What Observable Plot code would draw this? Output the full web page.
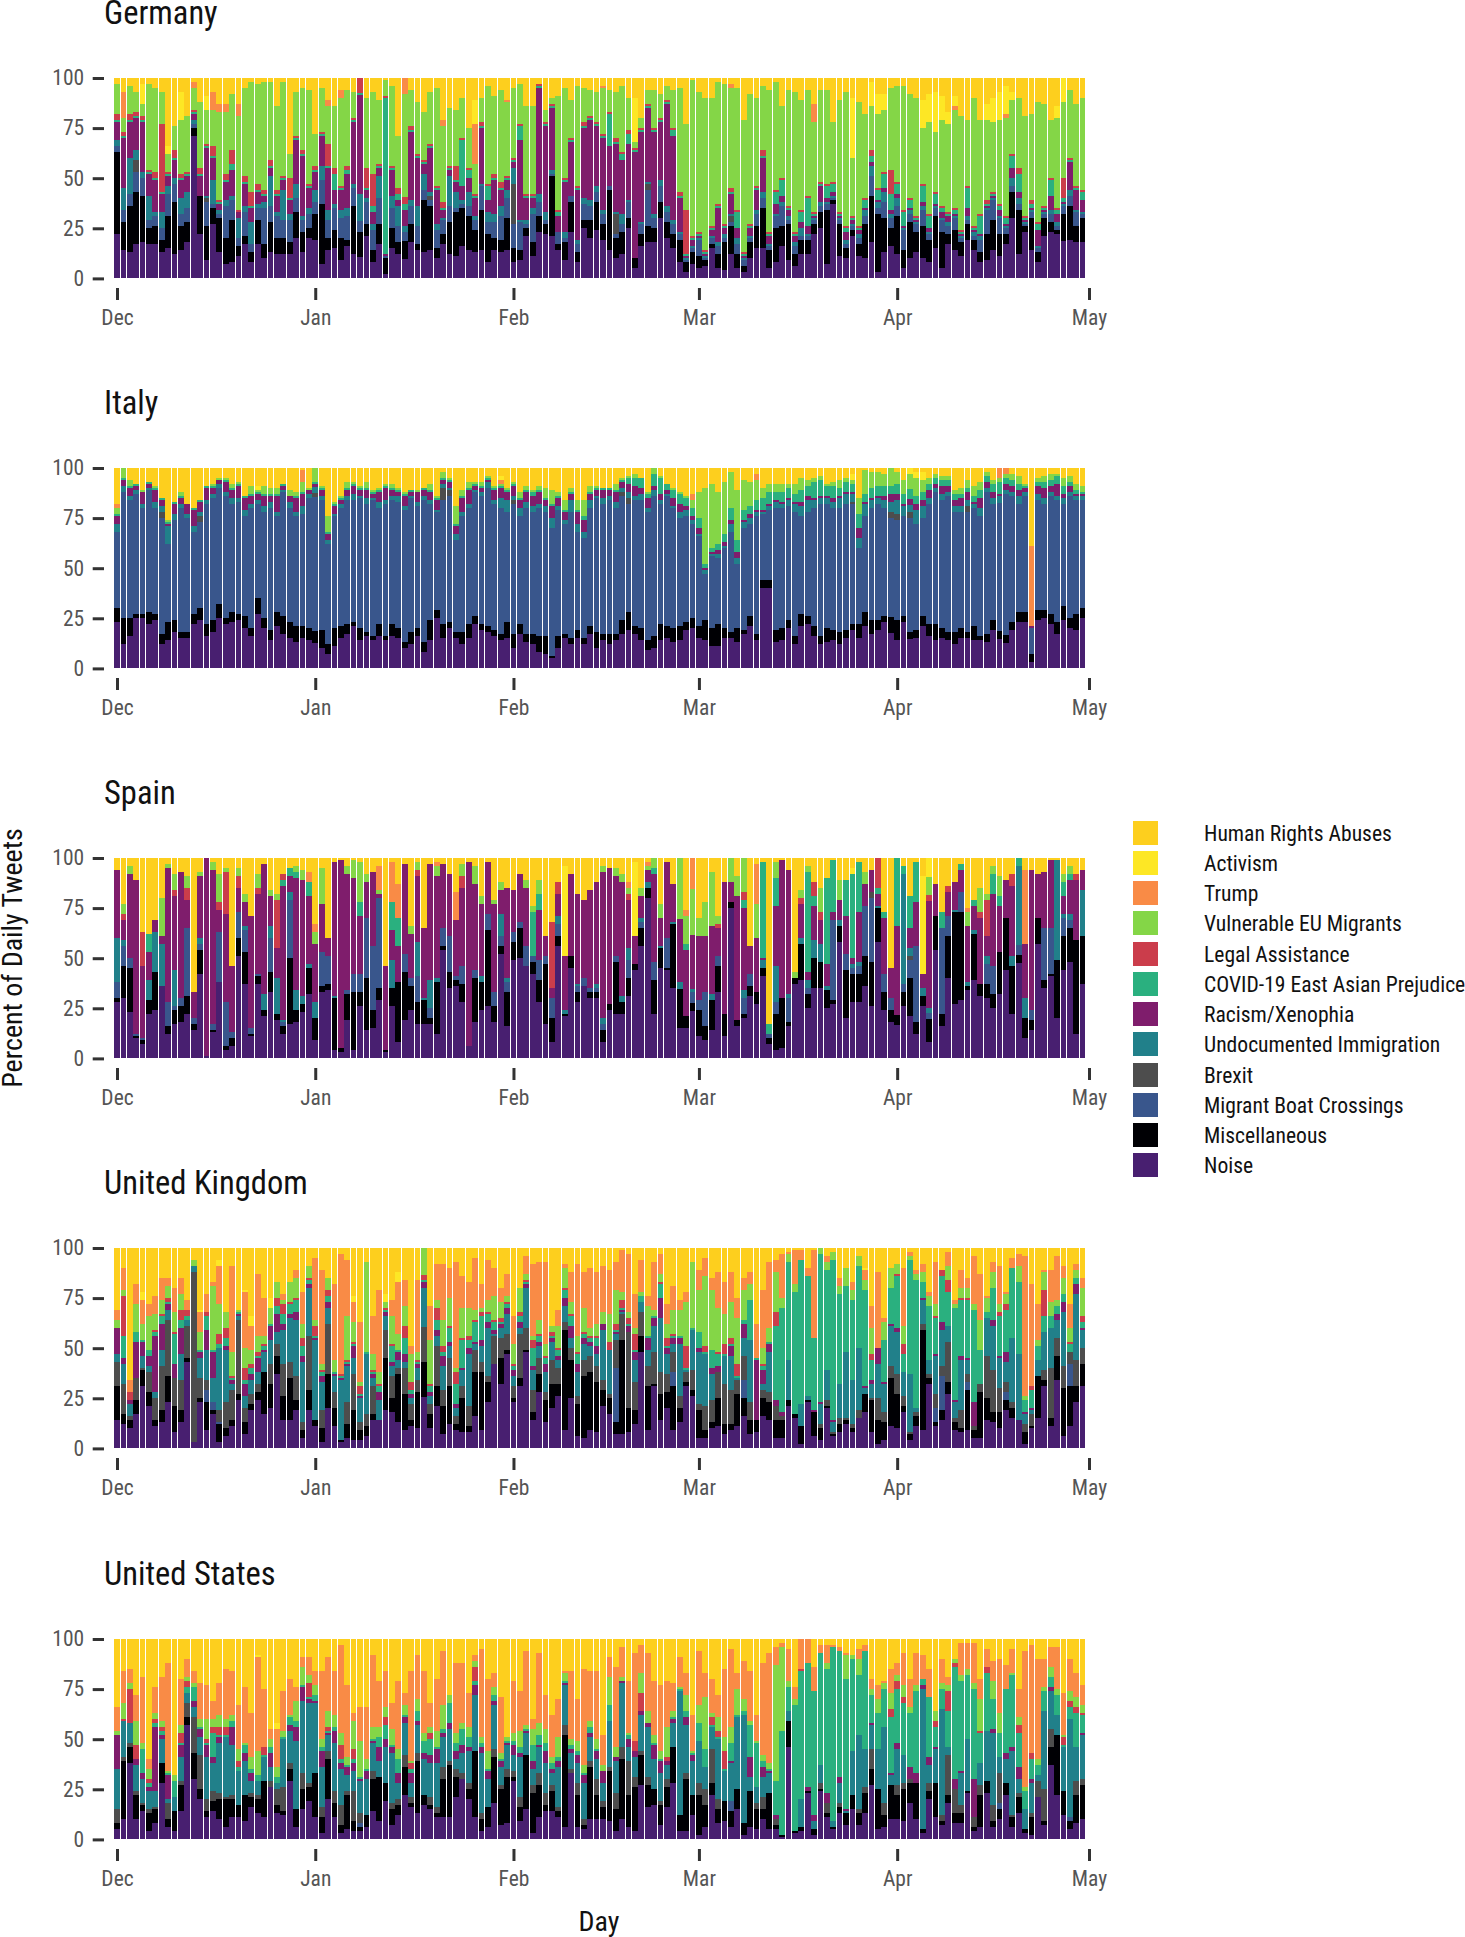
<!DOCTYPE html>
<html><head><meta charset="utf-8">
<script src="https://cdn.jsdelivr.net/npm/d3@7"></script>
<script src="https://cdn.jsdelivr.net/npm/@observablehq/plot@0.6"></script>
<style>
html,body{margin:0;padding:0;background:#fff}
#page{position:relative;width:1465px;height:1937px;overflow:hidden;font-family:"Roboto Condensed","Liberation Sans Narrow",Roboto,sans-serif}
#page svg{position:absolute;left:0;font-family:"Roboto Condensed","Liberation Sans Narrow",Roboto,sans-serif;overflow:visible}
.t{position:absolute;white-space:nowrap}
</style></head><body><div id="page"></div>
<script>
const categories=["Noise","Miscellaneous","Migrant Boat Crossings","Brexit","Undocumented Immigration","Racism/Xenophia","COVID-19 East Asian Prejudice","Legal Assistance","Vulnerable EU Migrants","Trump","Activism","Human Rights Abuses"];
const colors=["#481f70","#000004","#39568c","#4d4d4d","#21808a","#7f1d6c","#2ab07f","#cb3d4b","#84d647","#f98b46","#fde725","#fdcf1e"];
const countries=["Germany","Italy","Spain","United Kingdom","United States"];

// Germany
const deN=[22,14,13,17,18,17,17,13,15,12,14,18,71,22,9,27,13,7,8,11,17,8,17,10,13,12,12,12,20,13,20,19,7,14,15,9,16,12,11,21,8,17,2,15,12,10,18,14,13,14,10,17,12,11,16,14,13,14,8,14,13,14,8,9,21,11,23,22,21,14,9,23,8,25,20,24,19,14,10,12,25,5,16,18,18,30,20,15,8,3,7,5,6,15,5,4,12,5,3,10,15,15,5,8,16,9,6,12,12,22,25,7,37,11,10,21,11,10,18,3,13,16,12,5,10,13,10,8,15,5,17,14,11,19,14,8,9,14,11,17,30,12,23,14,8,21,23,22,19,19,18,18];
const deM=[41,14,23,26,23,8,9,6,16,26,12,10,4,19,17,8,17,13,21,5,4,5,12,7,15,8,8,6,13,10,5,13,30,6,9,11,3,24,13,6,6,10,8,10,6,9,9,3,26,22,5,5,16,22,19,17,11,20,14,6,6,16,7,5,4,7,8,5,30,3,9,15,5,4,9,14,8,30,10,11,5,5,6,8,7,8,8,7,11,5,6,6,3,2,7,14,14,7,3,8,11,20,9,17,10,18,6,7,7,5,8,27,2,16,5,3,6,17,23,29,17,9,19,9,18,10,16,11,16,18,5,10,7,8,5,5,13,15,11,5,13,22,3,16,5,9,5,2,14,17,8,12];
const deB=[3,6,6,10,9,4,5,6,11,9,6,7,2,0,12,2,2,16,10,4,12,4,6,18,8,11,9,11,7,6,7,6,12,9,11,10,12,9,6,11,10,13,1,10,8,5,9,9,5,3,9,7,8,2,2,5,5,12,6,8,12,10,12,14,2,14,7,2,1,6,2,3,4,8,7,5,5,2,2,4,8,0,5,18,5,8,5,5,3,1,2,8,1,3,4,2,2,5,3,2,6,5,2,6,10,2,4,2,2,2,3,3,1,2,2,2,3,4,10,3,8,5,5,10,4,4,8,3,4,6,4,6,2,2,2,6,12,10,8,3,3,3,1,3,2,2,4,2,4,5,7,2];
const deU=[3,11,18,5,3,12,2,8,4,3,8,8,2,0,1,12,2,3,2,10,3,11,2,3,15,2,15,3,7,2,3,6,7,5,2,4,4,2,14,2,3,11,0,6,10,3,3,10,8,2,3,1,15,8,2,7,2,1,5,4,5,4,8,1,2,3,4,4,2,0,3,0,2,3,3,3,2,0,1,5,1,0,1,1,2,3,3,2,1,1,1,1,1,1,2,2,1,3,1,1,2,3,1,1,2,2,2,4,1,1,2,1,1,1,2,1,2,3,5,3,5,2,4,1,2,1,2,1,1,1,2,1,1,2,2,2,1,1,1,1,4,3,1,1,1,1,2,2,1,3,1,1];
const deR=[9,25,18,16,25,11,16,9,5,9,9,8,3,10,24,11,3,9,13,3,11,7,6,3,4,8,5,7,22,30,10,9,15,21,7,10,17,31,51,4,6,4,1,13,3,8,34,24,5,22,17,4,3,5,7,7,9,28,6,17,8,5,3,40,11,5,53,43,31,8,25,27,25,35,40,30,36,20,34,27,28,53,45,37,41,29,51,42,17,1,3,1,1,3,17,3,10,5,1,4,10,17,4,5,3,3,3,3,4,1,8,2,2,1,4,2,2,1,2,1,2,2,2,1,1,1,2,2,1,3,3,1,1,4,1,1,1,1,3,1,5,3,1,1,8,1,7,4,1,14,10,6];
const deC=[1,1,1,1,1,1,1,1,1,1,1,1,1,1,1,1,1,1,3,0,1,1,1,1,1,1,1,1,1,1,1,1,1,1,8,1,2,1,1,1,3,1,78,1,3,3,1,1,1,1,1,1,1,1,23,4,1,1,7,1,1,1,1,7,1,1,1,1,1,2,1,1,1,1,1,1,1,16,1,3,5,1,1,1,1,1,1,3,1,1,1,1,1,1,1,1,1,8,1,1,1,1,1,6,8,1,1,5,14,1,1,6,4,1,2,1,1,4,3,5,7,8,5,7,4,1,8,6,5,2,1,2,1,10,1,9,1,1,2,3,6,9,1,2,3,1,8,2,2,1,1,4];
const deL=[3,2,3,2,2,1,3,34,1,4,2,1,1,3,1,5,1,3,7,1,3,7,3,2,3,2,1,10,1,2,1,2,1,11,3,1,2,1,8,10,16,1,1,1,3,4,2,1,1,1,1,3,1,7,1,1,1,2,1,2,3,1,1,1,1,1,1,1,1,1,1,1,1,2,1,1,1,1,2,1,2,1,1,1,1,1,1,1,2,22,1,1,1,1,1,1,2,1,1,1,1,3,1,1,1,1,1,1,1,1,1,1,1,1,1,1,1,1,3,1,1,12,1,1,1,1,1,1,1,1,1,1,1,1,1,1,2,1,1,1,1,3,1,2,1,1,1,1,10,1,1,1];
const deVulnTop=[97,80,96,93,87,97,95,93,62,76,79,81,95,88,84,84,83,83,92,81,95,98,97,98,98,86,98,62,93,95,94,72,95,86,86,90,94,93,94,90,93,89,99,96,71,95,94,88,83,93,95,76,85,84,90,75,57,90,96,91,94,88,95,97,86,86,96,84,90,91,95,89,96,95,94,93,95,94,93,96,90,68,80,94,94,92,96,94,95,77,99,93,90,90,98,97,95,95,79,92,90,96,94,98,86,94,93,89,94,78,94,94,78,89,93,60,88,82,86,82,84,95,96,96,92,90,75,78,73,79,77,84,81,79,90,79,79,78,79,80,89,90,81,82,88,87,79,80,90,94,87,90];
const deT=[[1,13],[12,3],[15,9],[16,4],[17,4],[19,6],[33,3],[35,4],[45,8],[51,3],[56,20],[61,1],[76,1],[96,2],[109,9],[131,2],[139,2]];
const deA=[[4,10],[8,4],[10,14],[14,7],[56,12],[81,22],[115,30],[118,12],[119,10],[120,8],[126,14],[127,14],[128,20],[129,12],[130,6],[131,5],[136,8],[137,12],[138,14],[139,14],[140,4],[147,6],[148,12]];
const deX=[[3,6],[14,2],[49,2],[62,20],[78,10],[83,3],[96,3]];

// Italy
const itN=[23,12,16,25,25,22,24,12,14,18,15,15,22,24,16,18,25,22,23,24,20,16,27,20,14,21,17,15,13,15,14,13,10,7,11,15,17,21,14,16,14,16,14,16,15,10,12,16,8,14,25,15,20,15,12,15,22,19,18,16,14,15,10,17,13,12,8,7,5,10,15,12,15,12,17,10,14,12,14,17,19,17,14,9,10,14,15,13,14,19,20,15,14,11,11,15,15,13,17,21,14,40,40,13,14,20,12,21,22,16,12,13,14,12,15,19,15,21,17,19,23,18,14,23,15,15,21,16,14,15,14,12,15,15,14,14,13,19,15,13,19,23,23,3,24,25,22,17,24,20,19,25];
const itM=[7,13,9,2,2,6,3,5,9,6,3,3,5,6,6,6,7,3,5,3,6,4,8,5,5,7,9,8,8,6,6,6,9,5,9,6,5,2,6,2,2,6,2,6,5,3,6,4,5,10,4,7,3,3,6,7,4,3,3,3,3,8,7,5,4,5,8,9,1,6,2,3,4,3,4,8,3,5,3,7,9,4,6,5,6,8,6,7,7,4,5,6,10,9,11,5,3,7,2,5,3,4,4,6,6,4,4,6,4,5,4,7,5,6,4,3,7,7,7,5,3,8,10,3,4,4,5,6,8,5,4,6,5,3,7,2,4,5,4,4,4,5,5,4,5,4,5,6,7,5,8,5];
const itBoatTop=[68,88,84,87,80,89,80,75,62,74,80,75,68,73,82,85,90,86,82,83,76,80,82,78,80,76,88,80,76,77,85,88,84,62,76,80,84,84,85,82,84,80,82,84,83,79,85,81,84,82,78,84,86,64,76,80,88,86,90,82,80,78,82,76,80,78,80,78,70,79,72,78,68,65,80,85,82,84,80,86,82,84,84,78,86,82,86,80,75,76,72,66,47,56,55,60,68,52,70,72,76,77,79,80,80,81,78,76,78,80,82,82,80,80,82,82,60,76,80,82,80,76,74,76,78,72,75,82,88,84,86,78,78,78,80,76,88,82,84,88,86,82,86,20,84,82,86,84,82,86,84,84];
const itU=[4,3,2,2,2,1,3,3,9,3,2,2,3,2,2,2,2,2,3,2,3,2,2,3,3,2,1,3,2,4,2,3,2,2,1,2,2,3,1,3,1,3,2,2,3,2,1,2,2,2,1,2,1,3,2,2,1,2,3,2,5,6,2,4,3,3,2,3,5,2,2,6,4,3,4,1,3,2,3,2,3,2,3,2,3,2,1,1,3,3,2,1,2,1,2,1,4,3,3,3,2,1,2,3,2,3,4,5,6,4,3,3,3,5,5,4,5,6,4,3,4,5,7,5,4,7,6,3,2,3,2,3,3,3,2,4,2,3,4,2,2,4,2,0,3,3,2,2,3,2,2,2];
const itR=[4,3,4,2,6,2,6,3,1,5,3,5,8,5,6,3,2,5,4,6,6,4,3,5,3,8,2,3,7,6,2,2,3,3,4,2,3,4,3,4,2,5,6,3,2,5,2,5,3,4,5,2,3,4,7,7,2,2,1,5,5,4,5,4,5,5,6,3,6,4,4,3,6,6,3,3,4,3,5,3,4,5,3,5,2,3,2,4,4,2,2,3,1,1,2,2,2,3,1,2,1,1,1,1,1,1,1,2,2,1,1,1,2,1,1,1,5,1,1,1,2,4,3,1,3,3,3,4,2,4,3,3,4,4,1,5,3,3,1,3,3,3,2,1,4,5,3,6,2,3,1,1];
const itC=[1,1,1,1,0,1,1,1,1,1,1,0,1,1,1,1,0,1,1,1,1,1,1,1,1,1,1,0,1,1,0,1,1,1,1,1,1,1,1,1,1,1,1,1,1,1,1,0,1,1,1,1,1,1,1,1,1,1,1,1,1,1,1,1,1,2,1,1,1,1,1,1,1,2,1,1,1,1,1,1,3,4,5,2,6,8,3,4,5,4,4,5,2,2,3,4,6,6,5,4,5,6,6,4,5,5,4,6,5,8,8,5,6,4,5,4,7,4,5,5,5,4,5,5,5,4,4,3,3,3,3,3,2,2,3,4,3,4,6,3,3,3,1,0,2,3,3,4,4,2,2,1];
const itV=[3,5,3,0,1,0,1,0,1,0,2,0,0,0,0,1,1,1,2,1,0,4,1,4,3,3,0,3,2,5,1,7,1,8,1,1,3,1,1,3,1,1,1,2,1,1,0,1,0,3,1,3,1,9,3,3,1,2,1,1,1,1,1,3,2,1,2,5,7,2,5,2,5,8,3,1,0,0,3,1,1,2,0,1,3,1,0,1,1,1,4,13,38,32,26,26,18,25,15,12,10,5,4,4,4,2,5,6,3,2,2,1,2,4,2,2,8,12,8,7,6,9,6,7,8,9,6,3,2,2,2,2,3,4,5,4,2,2,2,2,3,4,1,0,2,3,3,1,4,3,3,3];
const itT=[[0,2],[29,6],[60,2],[90,3],[100,3],[139,3],[138,5],[143,40]];
const itA=[[22,2],[60,2],[115,3],[124,3],[125,3],[126,4]];
const itX=[[7,3],[13,3],[31,2],[51,6],[52,3],[62,2],[79,2],[80,3],[115,1],[121,3],[122,3],[124,3],[133,3]];

// Spain
const esN=[28,30,23,10,7,22,24,36,12,17,18,22,14,42,1,13,38,4,6,51,37,11,37,21,33,19,12,17,18,23,32,9,33,34,4,3,19,4,26,14,15,29,3,26,8,19,24,17,17,17,12,54,35,36,28,6,18,24,26,18,52,16,49,50,46,42,28,17,8,56,21,45,28,36,30,30,8,24,22,22,31,44,56,80,22,45,44,35,19,15,27,11,9,14,33,11,76,16,20,31,27,41,7,4,5,16,37,39,25,35,35,25,27,58,20,28,28,36,26,58,24,18,23,26,21,12,26,9,54,16,40,27,29,34,39,31,30,25,32,44,22,57,10,14,57,35,41,20,44,48,12,37];
const esM=[2,16,22,1,2,7,19,0,4,7,8,9,3,12,0,1,0,2,4,9,16,1,4,3,10,3,4,33,6,4,13,11,3,3,26,2,13,29,7,26,9,6,1,9,30,24,12,11,12,3,26,2,8,3,9,0,22,14,38,8,4,17,9,15,0,6,11,30,12,5,1,6,5,0,3,3,6,3,26,6,9,3,9,5,17,10,1,32,24,6,5,13,7,15,13,11,3,3,2,5,6,4,3,18,25,2,3,18,7,15,13,9,2,8,24,14,14,15,22,17,9,6,7,7,19,6,5,12,17,6,21,46,44,2,23,6,7,7,21,26,24,5,10,5,13,4,1,29,17,17,47,24];
const esB=[8,10,5,1,1,0,0,0,12,2,4,34,3,3,0,3,25,22,3,13,11,3,1,0,17,0,2,29,0,0,0,0,17,14,0,0,2,9,9,30,32,45,0,0,0,9,4,13,0,5,0,9,18,2,9,0,4,0,8,7,5,5,5,3,10,3,10,4,10,6,0,0,3,4,2,2,3,0,3,0,9,0,3,0,9,0,15,0,0,0,6,5,17,0,5,0,0,0,8,6,0,0,2,6,0,12,0,0,3,0,0,0,40,0,8,3,4,25,32,0,9,6,0,4,9,38,0,3,0,43,10,0,10,0,0,0,10,14,0,0,0,6,0,5,0,26,23,0,9,4,0,0];
const esU=[22,3,0,0,0,10,20,21,0,18,0,0,0,3,0,0,0,0,0,0,2,0,0,8,6,18,1,4,10,4,2,8,0,0,1,0,0,0,0,0,0,0,0,14,0,0,0,17,1,14,2,0,0,0,0,0,0,3,0,0,11,2,0,0,0,0,0,0,0,4,2,0,1,0,0,2,3,0,0,3,6,0,2,3,0,1,0,1,4,0,2,0,0,3,0,0,0,0,4,0,0,4,0,18,0,2,0,3,4,9,9,2,0,3,0,2,2,0,0,1,0,0,0,55,4,0,4,3,0,0,0,1,0,2,2,0,4,0,0,0,5,47,10,0,0,0,0,50,2,3,0,23];
const esRacismTop=[94,69,92,89,46,53,69,61,95,81,93,79,33,91,100,94,74,72,46,85,78,71,82,97,81,55,86,91,90,89,81,57,77,60,98,99,92,90,71,88,93,82,46,64,56,97,62,91,65,97,91,97,92,69,85,98,87,77,98,77,84,85,84,92,85,51,74,61,35,82,51,92,82,79,84,88,93,95,91,88,79,61,81,94,92,70,98,87,86,54,71,61,61,66,65,88,89,81,75,56,60,50,10,76,99,94,40,77,43,76,69,47,73,79,71,50,73,87,94,82,70,45,91,89,65,78,42,84,87,65,83,88,94,66,76,70,61,82,76,89,86,86,57,94,92,93,99,99,81,89,89,94];
const esC=[[5,9],[26,3],[27,4],[28,3],[30,7],[38,7],[43,14],[44,14],[65,22],[66,8],[84,3],[89,3],[98,4],[101,48],[102,5],[103,14],[108,50],[109,5],[111,43],[112,26],[114,18],[115,42],[116,25],[119,3],[120,3],[122,47],[123,4],[124,16],[125,20],[129,8],[132,3],[134,3],[137,10],[138,5],[141,5],[148,7],[149,3]];
const esL=[[1,3],[4,17],[9,3],[11,6],[16,4],[17,21],[19,6],[22,3],[25,24],[26,3],[47,3],[54,6],[68,33],[69,6],[80,3],[94,2],[98,4],[107,3],[109,7],[110,4],[119,15],[127,3],[130,3],[135,3],[136,18],[140,6],[150,3]];
const esV=[[1,5],[2,4],[7,19],[8,2],[9,8],[11,6],[13,2],[15,4],[16,14],[17,2],[19,4],[20,4],[22,7],[24,3],[25,3],[28,3],[29,5],[31,6],[32,18],[36,4],[37,9],[38,20],[39,4],[41,2],[46,4],[47,4],[50,5],[54,6],[56,9],[57,4],[59,2],[60,4],[64,4],[65,3],[66,7],[76,3],[78,4],[79,4],[80,3],[82,4],[83,2],[84,5],[85,7],[88,38],[89,14],[90,26],[91,9],[92,17],[93,27],[94,4],[96,12],[97,10],[98,17],[100,17],[103,8],[106,3],[107,4],[108,3],[110,12],[113,10],[117,6],[127,10],[133,7],[135,12],[136,3],[137,4],[138,10],[148,4],[149,4]];
const esT=[[30,5],[31,4],[41,12],[43,20],[44,17],[50,2],[53,14],[80,3],[83,2],[89,3],[90,18],[100,20],[133,2],[142,37]];
const esA=[[70,45],[81,37],[115,3],[126,49],[127,10]];
const esX=[[118,3],[124,2]];

// United Kingdom
const ukN=[14,12,10,17,31,21,11,13,23,8,13,43,3,23,9,17,3,6,11,24,7,19,24,17,20,37,14,14,19,5,19,11,3,20,11,3,5,4,4,6,14,14,19,18,13,9,11,10,32,10,21,7,12,9,8,8,16,9,23,42,32,47,23,31,48,14,28,13,20,26,9,25,6,5,9,8,21,17,7,7,8,12,48,9,31,14,20,9,13,31,26,5,5,10,11,7,9,11,16,7,8,16,14,5,5,21,15,2,23,6,4,20,6,8,12,8,15,18,8,2,4,11,10,18,4,11,9,32,11,14,27,9,8,9,5,5,14,13,10,19,15,14,2,10,15,31,11,34,6,11,23,31];
const ukM=[17,5,4,7,8,7,3,6,13,13,6,2,0,2,14,2,9,4,3,3,6,3,4,21,12,9,12,21,5,4,10,3,7,17,9,1,7,15,5,5,3,0,26,7,24,18,3,18,22,7,10,14,19,3,17,3,22,29,10,0,13,2,2,4,1,4,9,11,12,6,50,19,16,31,29,25,8,8,6,47,12,7,8,22,1,13,8,22,7,2,3,14,4,3,14,5,3,16,9,7,6,9,9,9,9,3,2,9,1,12,6,1,1,4,2,2,0,9,16,12,9,24,17,3,3,5,50,3,2,5,6,4,2,20,4,23,11,5,8,5,5,0,6,1,21,3,4,12,24,20,8,11];
const ukX=[12,15,2,11,1,10,11,22,28,14,15,16,85,10,5,0,6,13,15,37,7,5,4,0,10,6,16,8,12,4,27,0,9,25,8,0,11,18,4,6,14,0,14,11,3,13,8,6,22,5,20,8,14,4,6,10,11,5,3,14,10,8,6,22,11,11,8,4,12,8,4,6,4,8,8,8,5,2,14,13,38,14,12,10,16,11,9,10,6,5,10,3,12,11,13,20,17,7,12,9,0,4,5,7,2,0,0,0,0,0,2,3,1,3,1,2,4,0,1,11,5,6,10,5,1,2,3,2,7,5,20,2,9,4,2,4,21,21,12,5,3,0,4,6,0,5,25,9,11,6,13,8];
const ukU=[4,10,6,0,6,3,3,8,5,0,13,3,3,10,15,12,31,26,3,2,6,7,6,10,12,6,17,22,28,30,24,40,14,8,8,30,18,8,12,30,4,10,7,5,4,3,3,6,24,4,5,12,6,4,8,26,3,8,24,1,5,10,5,3,20,10,6,10,9,4,8,5,12,8,5,6,25,22,3,1,0,11,5,8,13,27,10,4,26,1,20,26,26,13,0,14,17,1,9,31,0,3,20,0,0,20,0,11,2,0,10,15,5,17,33,22,31,3,7,17,14,20,21,12,29,2,12,7,19,18,8,8,25,7,0,0,19,22,15,10,32,33,5,2,8,19,20,9,27,0,33,9];
const ukR=[13,3,2,18,7,5,28,13,3,7,13,0,0,3,10,13,0,2,2,1,6,3,7,1,7,9,3,2,4,3,2,1,3,3,1,1,1,6,1,0,2,4,2,2,4,4,2,2,4,2,3,5,2,2,1,3,1,3,3,2,2,3,3,3,2,2,2,4,2,2,4,6,4,3,2,4,3,0,1,1,3,4,0,6,4,10,3,3,3,0,0,2,0,3,3,0,5,0,7,0,30,7,4,3,2,0,0,0,0,1,1,0,1,0,0,0,0,1,2,8,1,1,2,0,0,0,1,0,1,4,0,1,2,1,12,0,0,3,1,5,0,0,1,1,0,0,0,3,5,0,5,1];
const ukC=[0,11,0,5,1,3,2,4,1,15,4,2,0,1,7,1,2,4,1,1,2,3,1,2,1,4,5,5,6,5,2,1,2,3,1,1,1,1,1,1,1,3,1,8,1,8,2,1,1,3,5,2,7,10,14,4,10,12,4,4,1,2,2,3,1,9,3,3,1,3,4,5,5,2,2,4,0,0,1,1,1,1,3,1,1,7,1,1,1,1,1,8,1,9,6,1,1,1,2,20,1,2,1,37,52,49,61,72,60,36,74,50,80,45,33,40,41,48,10,0,21,18,26,9,57,64,8,27,18,23,17,46,28,29,46,17,3,16,20,21,35,36,6,9,7,8,6,4,4,4,3,3];
const ukL=[0,20,4,0,0,0,1,1,2,1,5,3,0,0,2,0,5,5,1,0,6,2,2,1,0,4,5,1,1,4,1,5,1,3,0,1,1,1,4,0,1,1,1,1,0,6,4,1,3,1,6,3,1,6,1,2,1,2,1,1,2,1,1,2,1,4,1,1,2,1,1,1,1,1,1,1,0,4,3,4,3,8,0,0,0,1,4,1,0,11,0,0,3,0,1,5,3,6,0,0,0,1,0,7,0,0,0,0,0,0,0,0,0,0,0,0,0,0,3,0,0,0,1,5,0,0,0,0,1,3,6,0,1,1,0,0,0,0,2,3,0,0,0,2,0,13,0,0,0,1,0,3];
const ukV=[4,3,0,14,8,17,8,7,6,10,8,0,3,9,0,32,15,8,12,1,10,7,8,4,8,8,2,10,10,7,6,3,3,6,6,0,22,10,2,45,8,6,3,14,8,10,14,4,17,22,4,13,14,2,15,14,5,2,6,12,8,3,10,12,3,2,7,6,3,11,10,6,8,12,4,6,6,14,17,4,3,3,2,15,3,4,7,12,13,22,33,21,35,30,22,15,18,23,15,8,0,8,7,20,5,4,4,0,0,0,3,4,4,4,9,5,5,5,13,0,9,10,5,9,2,3,5,5,6,0,7,2,5,5,3,15,7,8,4,5,0,8,2,0,3,9,7,3,8,7,4,14];
const ukTrumpTop=[69,90,34,82,74,72,76,85,85,80,85,74,94,68,77,83,91,68,91,67,78,61,87,75,69,77,77,77,89,78,85,95,89,82,82,97,94,73,63,79,66,79,72,74,83,84,51,84,94,71,92,92,90,93,86,83,95,82,94,90,80,87,66,75,96,92,93,93,61,69,92,88,92,88,90,88,91,89,93,99,97,77,94,76,93,97,72,81,74,78,93,89,95,85,88,83,88,75,85,88,62,79,93,94,97,98,99,99,90,99,99,96,98,85,83,83,96,89,71,88,65,87,92,90,98,89,92,78,93,86,98,74,89,85,96,87,76,93,91,78,95,97,96,82,72,89,89,96,91,72,92,85];
const ukB=[[14,6],[15,4],[16,1],[78,27],[87,7],[98,9],[128,7],[129,17],[133,4],[139,4],[149,11]];
const ukA=[[4,4],[13,1],[16,3],[20,1],[21,5],[24,5],[37,3],[42,4],[44,5],[117,1]];

// United States
const usN=[5,10,38,10,14,4,8,28,6,4,14,57,30,20,11,14,10,6,11,11,9,16,13,11,26,13,12,29,6,15,19,11,3,20,11,3,5,4,4,6,14,9,19,7,12,22,16,13,17,15,11,11,11,21,30,20,11,4,6,18,7,8,29,9,15,3,11,14,14,11,6,33,6,5,10,10,10,9,4,10,6,4,27,16,17,7,16,28,4,4,12,2,6,22,8,9,6,15,2,6,5,10,5,5,1,46,3,4,23,2,24,11,5,13,7,15,7,13,27,5,6,10,10,9,18,10,3,20,11,7,18,8,8,23,4,6,23,6,10,22,6,13,3,2,21,7,37,22,12,5,8,10];
const usM=[3,29,8,12,3,9,7,10,4,10,13,4,13,5,3,5,10,14,9,6,13,5,7,18,0,4,2,6,9,10,7,22,8,20,7,4,17,5,2,6,16,22,9,8,5,14,2,26,5,2,2,19,26,10,0,5,33,6,10,23,18,23,2,7,27,20,16,3,10,3,46,0,16,2,26,12,6,25,11,30,16,22,15,11,8,10,10,18,8,26,10,20,11,6,7,10,8,10,6,18,10,5,18,2,1,13,1,2,1,3,1,2,1,3,6,7,6,10,8,20,6,17,12,16,10,18,2,4,17,2,4,5,5,1,2,16,6,3,5,6,5,8,2,9,0,2,9,30,12,4,14,17];
const usX=[7,2,2,2,1,2,1,0,8,0,2,7,18,17,6,5,3,1,2,0,0,2,2,0,3,8,12,3,0,8,2,0,5,4,6,10,2,15,5,0,4,0,0,3,3,6,3,4,0,4,3,6,2,4,3,3,0,3,0,4,2,4,3,5,0,4,6,6,3,2,5,2,6,3,3,8,3,2,8,6,17,5,2,4,0,2,4,0,0,3,0,6,8,17,5,0,0,0,0,0,3,6,0,3,0,0,0,0,0,0,3,5,0,2,0,0,2,3,10,0,6,0,5,3,2,0,0,4,0,3,20,12,4,0,5,5,0,8,15,0,1,2,0,2,8,16,9,0,0,0,7,3];
const usU=[20,18,10,13,12,9,8,12,2,7,12,5,5,9,21,14,25,30,25,17,17,6,7,12,7,3,24,16,34,36,40,35,20,8,24,18,8,10,16,18,14,8,18,25,8,16,7,14,18,17,22,15,16,5,10,16,28,30,14,22,9,12,8,20,11,8,13,15,6,20,20,8,10,18,12,10,9,23,16,32,7,10,18,25,15,14,7,12,62,24,17,21,11,11,30,15,19,36,54,7,8,10,10,0,0,5,0,14,0,4,9,0,3,10,1,22,37,19,12,20,38,5,18,14,0,0,70,9,17,53,4,0,16,26,0,11,25,36,8,12,32,7,10,15,3,39,19,10,22,49,17,22];
const usR=[17,0,0,3,3,2,32,2,12,0,6,0,3,4,6,3,3,0,9,0,4,4,0,0,7,0,0,3,7,7,2,1,8,1,6,3,4,4,1,4,1,7,4,3,5,3,5,2,3,4,7,2,3,4,4,2,5,3,4,2,3,1,5,2,1,4,1,6,2,3,1,2,4,4,2,4,6,0,2,1,4,3,2,2,7,6,2,2,0,4,3,0,0,0,0,0,1,0,0,10,0,5,1,2,0,0,0,0,2,3,0,5,0,3,1,0,0,0,1,0,0,1,3,0,6,5,2,4,1,0,0,5,1,0,19,0,0,2,0,3,2,6,0,2,0,0,2,0,0,0,0,1];
const usC=[0,0,0,0,12,2,2,2,1,8,1,3,7,1,1,12,1,1,3,2,4,2,3,1,3,3,1,4,3,1,1,3,2,1,2,2,1,2,1,1,1,5,7,1,7,1,2,5,6,8,1,2,10,4,8,5,2,2,1,3,1,1,2,3,1,8,5,4,3,2,1,2,2,1,3,1,0,8,0,0,2,0,0,0,1,1,0,1,1,3,1,9,9,1,1,1,9,1,2,16,22,3,1,17,52,12,63,64,62,62,56,62,87,63,65,46,30,49,14,18,19,28,27,26,27,41,3,30,10,10,18,56,45,32,45,15,29,15,12,32,36,17,9,10,5,10,5,10,1,6,17,9];
const usV=[2,8,3,12,3,5,3,3,1,3,4,2,2,4,10,4,6,4,3,6,1,6,12,0,4,5,3,1,10,9,4,5,4,8,6,6,4,14,18,5,6,5,5,8,5,5,1,6,4,3,8,12,4,5,3,5,3,3,9,4,3,2,4,8,2,8,6,7,3,10,4,3,5,4,3,5,3,14,5,2,1,0,10,6,4,4,15,3,1,8,1,9,26,2,7,7,8,13,6,2,1,3,3,58,42,3,3,0,0,0,0,3,0,0,12,2,8,0,3,7,3,8,3,6,3,3,0,0,5,3,3,2,3,3,3,16,0,9,10,0,1,4,2,0,3,2,5,3,1,5,5,4];
const usTrumpTop=[66,84,85,72,81,40,76,81,88,32,80,90,84,78,77,69,78,85,84,67,76,63,91,75,55,55,74,80,76,91,91,84,84,91,84,97,77,63,66,66,92,79,84,68,79,73,84,92,84,68,80,94,71,88,88,73,92,95,80,83,71,49,79,74,94,60,93,72,62,70,84,84,70,85,84,84,52,91,86,96,79,93,97,93,79,77,79,78,91,83,62,94,83,80,72,85,95,83,89,84,62,88,93,96,98,95,76,100,100,86,97,97,97,96,93,92,95,97,80,77,79,85,88,93,80,93,92,85,62,90,81,90,98,98,98,80,95,89,90,87,95,75,94,97,90,90,96,96,73,90,83,77];
const usL=[[1,1],[2,17],[3,7],[5,2],[6,2],[7,2],[10,5],[11,3],[14,2],[15,3],[16,4],[17,4],[19,3],[23,4],[30,7],[33,2],[35,7],[37,5],[42,4],[46,3],[49,3],[56,7],[81,5],[82,9],[86,2],[93,4],[94,3],[95,9],[107,1],[121,4],[122,4],[123,3],[128,3],[130,10],[131,2],[135,1],[136,3],[141,4],[143,3],[148,4],[149,3],[150,3],[151,1]];
const usB=[[38,2],[96,5],[138,3],[149,2]];
const usA=[[5,0],[22,1],[25,3],[107,0]];

const countryData={
 Germany:{N:deN,M:deM,B:deB,U:deU,R:deR,C:deC,L:deL,X:deX,T:deT,A:deA,top:deVulnTop,fill:"V"},
 Italy:{N:itN,M:itM,U:itU,R:itR,C:itC,V:itV,X:itX,T:itT,A:itA,top:itBoatTop,fill:"B"},
 Spain:{N:esN,M:esM,B:esB,U:esU,C:esC,L:esL,V:esV,T:esT,A:esA,X:esX,top:esRacismTop,fill:"R"},
 "United Kingdom":{N:ukN,M:ukM,X:ukX,U:ukU,R:ukR,C:ukC,L:ukL,V:ukV,B:ukB,A:ukA,top:ukTrumpTop,fill:"T"},
 "United States":{N:usN,M:usM,X:usX,U:usU,R:usR,C:usC,V:usV,L:usL,B:usB,A:usA,top:usTrumpTop,fill:"T"}
};
const tickDates=[[2019,11,1,"Dec"],[2020,0,1,"Jan"],[2020,1,1,"Feb"],[2020,2,1,"Mar"],[2020,3,1,"Apr"],[2020,4,1,"May"]];
const yTicks=[0,25,50,75,100];
const DAY=864e5, start=Date.UTC(2019,11,1);
const order=["N","M","B","X","U","R","C","L","V","T","A","H"];
function dense(a){if(!a)return Array(152).fill(0);if(a.length&&Array.isArray(a[0])){const o=Array(152).fill(0);a.forEach(([i,v])=>o[i]=v);return o}return a}
function rowsFor(d){const s={};order.forEach(k=>s[k]=dense(d[k]));const rows=[];
 const f=order.indexOf(d.fill);
 for(let i=0;i<152;i++){const v={};order.forEach(k=>v[k]=s[k][i]||0);
  let below=0,above=0;
  order.forEach((k,j)=>{if(k==="H")return;if(j<f)below+=v[k];else if(j>f)above+=v[k]});
  v[d.fill]=Math.max(0,d.top[i]-below);
  v.H=Math.max(0,100-Math.max(d.top[i],below)-above);
  order.forEach((k,j)=>rows.push({x1:new Date(start+(i-.45)*DAY),x2:new Date(start+(i+.45)*DAY),cat:categories[j],value:v[k]}))}
 return rows}
const page=document.getElementById("page");
const P={top:78,bottom:278.4,axisY:288,left:104,x0:117,x1:1089,h:340};
countries.forEach((name,ci)=>{
 const off=[0,390,780,1170,1561][ci];
 const chart=Plot.plot({width:1110,height:P.h,marginLeft:P.left,marginRight:0,marginTop:0,marginBottom:P.h-P.axisY,
  x:{type:"utc",domain:[new Date(start),new Date(Date.UTC(2020,4,1))],range:[P.x0,P.x1],label:null},
  y:{domain:[0,1],range:[P.bottom,P.top],label:null},
  color:{domain:categories,range:colors},
  style:{fontSize:"21.5px",background:"transparent"},
  marks:[
   Plot.rectY(rowsFor(countryData[name]),Plot.stackY({offset:"normalize",order:categories},{x1:"x1",x2:"x2",y:"value",z:"cat",fill:"cat",shapeRendering:"crispEdges",inset:0})),
   Plot.axisY({ticks:yTicks.map(d=>d/100),tickFormat:d=>Math.round(d*100),tickSize:11.3,tickPadding:9,strokeWidth:3,stroke:"#333",color:"#555",label:null,anchor:"left",fontSize:21.5}),
   Plot.axisX({ticks:tickDates.map(d=>new Date(Date.UTC(d[0],d[1],d[2]))),tickFormat:d=>tickDates.find(t=>Date.UTC(t[0],t[1],t[2])===+d)[3],tickSize:12,tickPadding:9,strokeWidth:3,stroke:"#333",color:"#555",label:null,anchor:"bottom",fontSize:21.5})
  ]});
 chart.style.top=off+"px";page.appendChild(chart);
 const t=document.createElement("div");t.className="t";t.textContent=name;t.style.cssText+=`left:104px;top:${off}px;font-size:32.5px;line-height:27px;padding-bottom:6px;color:#111`;page.appendChild(t);
});
[...categories].reverse().forEach((c,i)=>{
 const y=820.7+i*30.25;
 const s=document.createElement("div");s.style.cssText=`position:absolute;left:1133px;top:${y}px;width:25px;height:24px;background:${colors[11-i]}`;page.appendChild(s);
 const l=document.createElement("div");l.className="t";l.textContent=c;l.style.cssText+=`left:1204px;top:${y+1}px;font-size:21.6px;line-height:24px;color:#111`;page.appendChild(l);
});
const yl=document.createElement("div");yl.className="t";yl.textContent="Percent of Daily Tweets";yl.style.cssText+=`left:13px;top:958px;font-size:28px;line-height:26px;transform:translate(-50%,-50%) rotate(-90deg);color:#111`;page.appendChild(yl);
const xl=document.createElement("div");xl.className="t";xl.textContent="Day";xl.style.cssText+=`left:599px;top:1922px;font-size:28px;line-height:26px;transform:translate(-50%,-50%);color:#111`;page.appendChild(xl);
</script></body></html>
